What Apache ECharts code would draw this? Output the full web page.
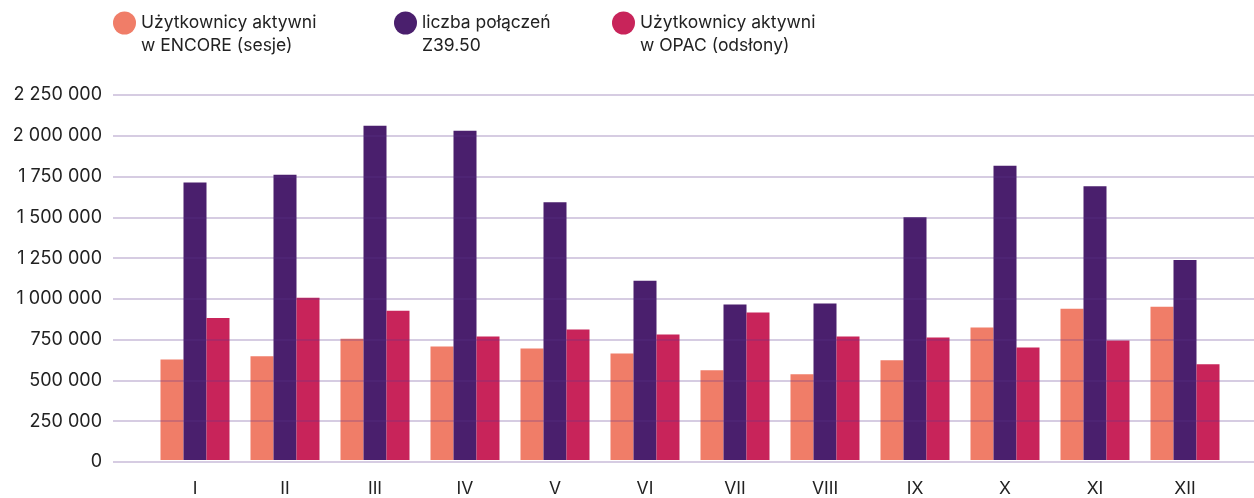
<!DOCTYPE html>
<html>
<head>
<meta charset="utf-8">
<script src="https://cdn.jsdelivr.net/npm/echarts@6/dist/echarts.min.js"></script>
<style>
html,body{margin:0;padding:0;background:#fff;}
#chart{width:1254px;height:498px;}
</style>
</head>
<body>
<div id="chart"></div>
<script>
const categories = ['I','II','III','IV','V','VI','VII','VIII','IX','X','XI','XII'];
const seriesNames = ['Użytkownicy aktywni\nw ENCORE (sesje)', 'liczba połączeń\nZ39.50', 'Użytkownicy aktywni\nw OPAC (odsłony)'];
const encore = [620000, 640000, 748000, 700000, 688000, 657000, 553000, 529000, 615000, 817000, 933000, 945000];
const z3950 = [1710000, 1758000, 2060000, 2030000, 1589000, 1105000, 958000, 964000, 1497000, 1814000, 1687000, 1233000];
const opac = [876000, 1000000, 920000, 762000, 805000, 774000, 909000, 762000, 755000, 694000, 737000, 590000];
const yMin = 0, yMax = 2250000, yStep = 250000;
const colors = ['#F07D68', '#4A1F6D', '#C8245A'];

const fmt = v => String(v).replace(/\B(?=(\d{3})+(?!\d))/g, ' ');
const font = 'Inter, "Noto Sans", sans-serif';

const chart = echarts.init(document.getElementById('chart'));
const legendLefts = [113, 394, 612];
chart.setOption({
  animation: false,
  color: colors,
  legend: seriesNames.map((n, i) => ({
    data: [n],
    left: legendLefts[i],
    top: -11.5,
    padding: 0,
    icon: 'circle',
    itemWidth: 23,
    itemHeight: 23,
    selectedMode: false,
    formatter: name => '\n' + name,
    textStyle: {fontFamily: font, fontSize: 17.5, color: '#222', lineHeight: 23}
  })),
  grid: [
    {left: 150, right: 24, top: 95, bottom: 36, containLabel: false},
    {left: 113, right: 0, top: 95, bottom: 36, containLabel: false}
  ],
  xAxis: [
    {type: 'category', gridIndex: 0, data: categories,
     axisLine: {show: false}, axisTick: {show: false},
     axisLabel: {fontFamily: font, fontSize: 17.5, color: '#222', margin: 20}},
    {type: 'value', gridIndex: 1, min: 0, max: 1, show: false}
  ],
  yAxis: [
    {type: 'value', gridIndex: 0, min: yMin, max: yMax, interval: yStep, show: false},
    {type: 'value', gridIndex: 1, min: yMin, max: yMax, interval: yStep, z: 10,
     axisLine: {show: false}, axisTick: {show: false},
     axisLabel: {fontFamily: font, fontSize: 18, color: '#222', margin: 11, formatter: fmt},
     splitLine: {lineStyle: {color: 'rgba(90,50,140,0.25)', width: 2}}}
  ],
  series: [encore, z3950, opac].map((d, i) => ({
    name: seriesNames[i],
    type: 'bar',
    xAxisIndex: 0, yAxisIndex: 0,
    data: d,
    barWidth: 23,
    barGap: '0%',
    itemStyle: {color: colors[i]}
  }))
});
</script>
</body>
</html>
